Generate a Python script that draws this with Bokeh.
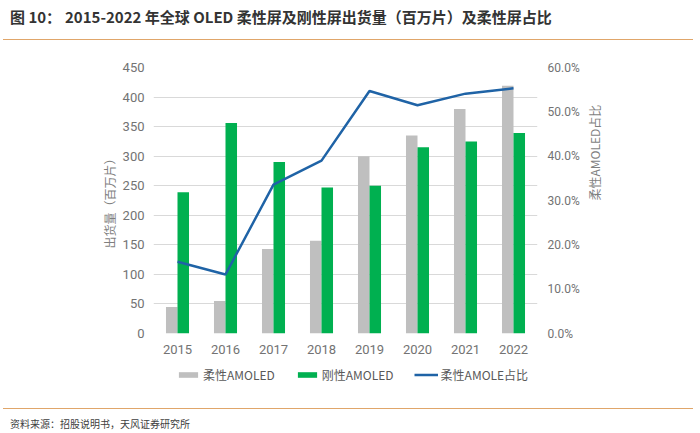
import math
from bokeh.plotting import figure
from bokeh.models import (ColumnDataSource, FactorRange, Range1d, LinearAxis,
                          Legend, LegendItem, SingleIntervalTicker, FixedTicker,
                          NumeralTickFormatter, Div)
from bokeh.layouts import column
from bokeh.transform import dodge
from bokeh.embed import file_html
from bokeh.resources import INLINE

# ---- data ----
years = ["2015", "2016", "2017", "2018", "2019", "2020", "2021", "2022"]
flexible = [45, 55, 143, 157, 300, 335, 380, 419]          # 柔性AMOLED (百万片)
rigid = [239, 356, 290, 247, 250, 315, 325, 339]           # 刚性AMOLED (百万片)
flex_share = [0.162, 0.133, 0.336, 0.390, 0.547, 0.515, 0.541, 0.553]  # 柔性占比
pct_ticks = [0.0, 0.1, 0.2, 0.3, 0.4, 0.5, 0.6]

title_prefix = "图 10："
title_text = "2015-2022 年全球 OLED 柔性屏及刚性屏出货量（百万片）及柔性屏占比"
source_text = "资料来源：招股说明书，天风证券研究所"
left_label = "出货量（百万片）"
right_label = "柔性AMOLED占比"
legend_labels = ["柔性AMOLED", "刚性AMOLED", "柔性AMOLE占比"]

GRAY = "#BFBFBF"
GREEN = "#00B050"
BLUE = "#1F63A6"
ORANGE = "#E0A66A"
CJK = "Noto Sans CJK SC"
NUM = "Roboto"

src = ColumnDataSource(dict(year=years, flex=flexible, rigid=rigid, share=flex_share))

p = figure(width=700, height=320, x_range=FactorRange(*years), y_range=Range1d(0, 450),
           output_backend="svg", toolbar_location=None,
           min_border_left=153, min_border_right=163, min_border_top=27, min_border_bottom=27)
p.extra_y_ranges = {"pct": Range1d(0, 0.6)}
p.outline_line_color = None
p.background_fill_color = "white"
p.border_fill_color = "white"

b1 = p.vbar(x=dodge("year", -0.12, range=p.x_range), top="flex", width=0.24, source=src,
            fill_color=GRAY, line_color=None)
b2 = p.vbar(x=dodge("year", 0.12, range=p.x_range), top="rigid", width=0.24, source=src,
            fill_color=GREEN, line_color=None)
ln = p.line(x="year", y="share", source=src, y_range_name="pct", line_color=BLUE, line_width=2.5)

# axes
p.xgrid.grid_line_color = None
p.ygrid.grid_line_color = "#D9D9D9"
p.ygrid.grid_line_width = 1

xa = p.xaxis[0]
xa.axis_line_color = None
xa.major_tick_line_color = None
xa.minor_tick_line_color = None
xa.major_label_text_font = NUM
xa.major_label_text_font_size = "13px"
xa.major_label_text_color = "#737373"
xa.major_label_standoff = 5

ya = p.yaxis[0]
ya.ticker = SingleIntervalTicker(interval=50)
ya.axis_line_color = None
ya.major_tick_line_color = None
ya.minor_tick_line_color = None
ya.major_label_text_font = NUM
ya.major_label_text_font_size = "13px"
ya.major_label_text_color = "#737373"
ya.major_label_standoff = 3
ya.axis_label = left_label
ya.axis_label_text_font = CJK
ya.axis_label_text_font_size = "12px"
ya.axis_label_text_font_style = "normal"
ya.axis_label_text_color = "#7F7F7F"
ya.axis_label_standoff = 2

ra = LinearAxis(y_range_name="pct", ticker=FixedTicker(ticks=pct_ticks),
                formatter=NumeralTickFormatter(format="0.0%"))
ra.axis_line_color = None
ra.major_tick_line_color = None
ra.minor_tick_line_color = None
ra.major_label_text_font = NUM
ra.major_label_text_font_size = "12px"
ra.major_label_text_color = "#737373"
ra.major_label_standoff = 4
ra.axis_label = right_label
ra.axis_label_text_font = CJK
ra.axis_label_text_font_size = "12px"
ra.axis_label_text_font_style = "normal"
ra.axis_label_text_color = "#7F7F7F"
ra.axis_label_standoff = 12
if "axis_label_orientation" in ra.properties():
    ra.axis_label_orientation = math.pi / 2
p.add_layout(ra, "right")

# legend strip (own small figure below the chart); its proxy glyphs use the same data
# but have zero size, so only their legend swatches are seen
lp = figure(width=700, height=48, x_range=Range1d(0, 1), y_range=Range1d(0, 1),
            output_backend="svg", toolbar_location=None, min_border=0,
            x_axis_location=None, y_axis_location=None)
lp.grid.visible = False
lp.outline_line_color = None
lp.border_fill_color = "white"
lp.background_fill_color = "white"
lg1 = lp.vbar(x="share", top="share", bottom="share", width=0, source=src,
              fill_color=GRAY, line_color=None)
lg2 = lp.vbar(x="share", top="share", bottom="share", width=0, source=src,
              fill_color=GREEN, line_color=None)
lg3 = lp.segment(x0="share", y0="share", x1="share", y1="share", source=src,
                 line_color=BLUE, line_width=2.5, line_cap="butt")
legend = Legend(items=[LegendItem(label=legend_labels[0], renderers=[lg1]),
                       LegendItem(label=legend_labels[1], renderers=[lg2]),
                       LegendItem(label=legend_labels[2], renderers=[lg3])],
                orientation="horizontal", location=(23, 25),
                glyph_width=24, glyph_height=7, label_standoff=3, spacing=20,
                padding=0, margin=0, border_line_color=None, background_fill_alpha=0,
                label_text_font=CJK, label_text_font_size="12px", label_text_color="#595959")
lp.add_layout(legend, "center")

title_div = Div(width=700, height=40, margin=(0, 0, 0, 0), text=(
    '<div style="width:690px;height:40px;margin-left:3px;box-sizing:border-box;'
    'border-bottom:1.5px solid %s;font-family:\'%s\';font-weight:bold;font-size:15px;'
    'color:#333333;line-height:20px;padding-top:7px;white-space:nowrap;">'
    '<span style="display:inline-block;width:62px;padding-left:7px;">%s</span>'
    '<span>%s</span></div>') % (ORANGE, CJK, title_prefix, title_text))

source_div = Div(width=700, height=25, margin=(0, 0, 0, 0), text=(
    '<div style="width:690px;height:25px;margin-left:3px;box-sizing:border-box;'
    'border-top:1.5px solid %s;font-family:\'%s\';font-size:10px;color:#404040;'
    'line-height:14px;padding-top:8px;padding-left:7px;white-space:nowrap;">%s</div>')
    % (ORANGE, CJK, source_text))

layout = column(title_div, p, lp, source_div, spacing=0)

open("out.html", "w").write(file_html(layout, INLINE))
